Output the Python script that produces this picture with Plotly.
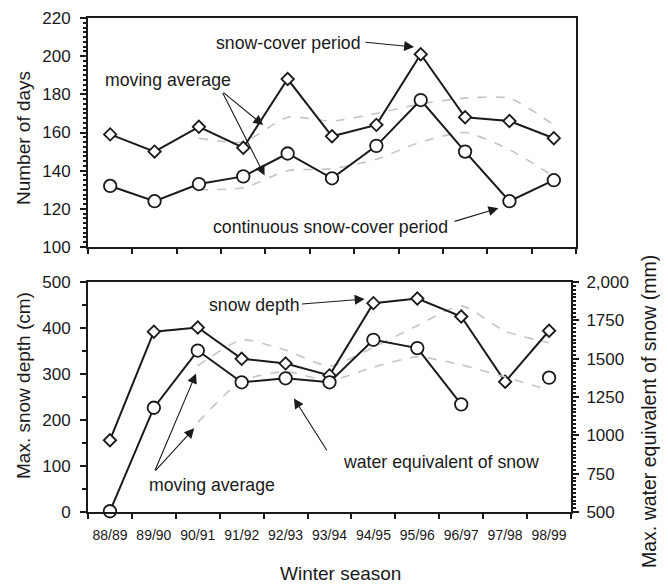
import plotly.graph_objects as go

seasons = ["88/89", "89/90", "90/91", "91/92", "92/93", "93/94",
           "94/95", "95/96", "96/97", "97/98", "98/99"]

# top panel (days)
snow_cover_days = [159, 150, 163, 152, 188, 158, 164, 201, 168, 166, 157]
continuous_days = [132, 124, 133, 137, 149, 136, 153, 177, 150, 124, 135]
snow_cover_ma = [None, None, 157, 155, 168, 166, 170, 175, 178, 178, 164]
continuous_ma = [None, None, 130, 131, 140, 141, 146, 155, 160, 151, 137]

# bottom panel
snow_depth_cm = [156, 392, 401, 333, 323, 297, 454, 464, 425, 283, 394]
water_equiv_mm = [505, 1180, 1553, 1346, 1372, 1346, 1623, 1569, 1202, None, 1376]
snow_depth_ma = [None, None, 318, 374, 352, 317, 358, 405, 448, 393, 368]
water_equiv_ma = [None, None, 1085, 1355, 1415, 1358, 1445, 1512, 1460, 1380, 1295]

water_ticks = [500, 750, 1000, 1250, 1500, 1750, 2000]
water_ticktext = ["500", "750", "1000", "1250", "1500", "1750", "2,000"]

FONT = "Liberation Sans, Arial, sans-serif"
NARROW = "Liberation Sans Narrow, Arial Narrow, Liberation Sans, sans-serif"
INK = "#1a1a1a"
DASH = "#c4c4c4"

# page offset (browser body margin)
OFF = 8
WIN_W, WIN_H = 668, 587
W, H = WIN_W - OFF, WIN_H - OFF

# plot area in window pixels
PL, PR_TOP, PR_BOT = 88, 576, 571
TOP_T, TOP_B = 18, 247
BOT_T, BOT_B = 282, 512

L = PL - OFF
T = TOP_T - OFF
R = W - (PR_TOP - OFF)
B = H - (BOT_B - OFF)
plot_w = W - L - R
plot_h = H - T - B
top_dom = [(BOT_B - TOP_B) / plot_h, 1.0]
bot_dom = [0.0, (BOT_B - BOT_T) / plot_h]
xb_dom = [0.0, (PR_BOT - PL) / plot_w]

fig = go.Figure()

def solid(x, y, sym, size, xa, ya):
    return go.Scatter(x=x, y=y, mode="lines+markers", xaxis=xa, yaxis=ya,
                      line=dict(color=INK, width=2),
                      marker=dict(symbol=sym, size=size, color="white",
                                  line=dict(color=INK, width=1.8)),
                      cliponaxis=False, showlegend=False, hoverinfo="skip")

def dashed(x, y, xa, ya):
    return go.Scatter(x=x, y=y, mode="lines", xaxis=xa, yaxis=ya,
                      line=dict(color=DASH, width=1.6, dash="dash", shape="spline", smoothing=0.6),
                      showlegend=False, hoverinfo="skip")

fig.add_trace(dashed(seasons, snow_cover_ma, "x", "y"))
fig.add_trace(dashed(seasons, continuous_ma, "x", "y"))
fig.add_trace(solid(seasons, snow_cover_days, "diamond", 9.5, "x", "y"))
fig.add_trace(solid(seasons, continuous_days, "circle", 12.5, "x", "y"))

fig.add_trace(dashed(seasons, snow_depth_ma, "x2", "y2"))
fig.add_trace(dashed(seasons, water_equiv_ma, "x2", "y3"))
fig.add_trace(solid(seasons, snow_depth_cm, "diamond", 9.5, "x2", "y2"))
fig.add_trace(solid(seasons, water_equiv_mm, "circle", 12.5, "x2", "y3"))

axis_common = dict(showline=True, linecolor=INK, linewidth=2, mirror=True,
                   showgrid=False, zeroline=False, ticks="outside",
                   tickcolor=INK, automargin=False)

fig.update_layout(
    width=W, height=H,
    margin=dict(l=L, r=R, t=T, b=B, pad=0),
    paper_bgcolor="white", plot_bgcolor="white",
    font=dict(family=FONT, color=INK),
    xaxis=dict(axis_common, domain=[0, 1], anchor="y", type="category",
               categoryorder="array", categoryarray=seasons,
               range=[-0.5, 10.5], tickson="boundaries", ticklen=5, tickwidth=1.5,
               showticklabels=False),
    yaxis=dict(axis_common, domain=top_dom, anchor="x", range=[100, 220],
               tickmode="linear", tick0=100, dtick=20, ticklen=6, tickwidth=1.5,
               tickfont=dict(size=17), ticklabelstandoff=6,
               minor=dict(ticks="outside", dtick=2.5, tick0=100, ticklen=3, tickcolor=INK)),
    xaxis2=dict(axis_common, domain=xb_dom, anchor="y2", type="category",
                categoryorder="array", categoryarray=seasons,
                range=[-0.5, 10.5], tickson="boundaries", ticklen=5, tickwidth=1.5,
                tickangle=0,
                tickfont=dict(size=14, family=NARROW), ticklabelstandoff=9),
    yaxis2=dict(axis_common, domain=bot_dom, anchor="x2", range=[0, 500],
                tickmode="linear", tick0=0, dtick=100, ticklen=6, tickwidth=1.5,
                tickfont=dict(size=17), ticklabelstandoff=6,
                minor=dict(ticks="outside", dtick=50, tick0=0, ticklen=4, tickcolor=INK)),
    yaxis3=dict(showline=True, linecolor=INK, linewidth=2, showgrid=False, zeroline=False,
                overlaying="y2", side="right", anchor="x2", range=[500, 2000],
                tickmode="array", tickvals=water_ticks, ticktext=water_ticktext,
                ticks="outside", ticklen=6, tickwidth=1.5, tickcolor=INK,
                tickfont=dict(size=17), ticklabelstandoff=4, automargin=False,
                minor=dict(ticks="outside", dtick=25, tick0=500, ticklen=3, tickcolor=INK)),
)

ann = []
TXT = dict(size=17.7, color=INK, family=FONT)

def text(x, y, s, xref="x", yref="y"):
    ann.append(dict(x=x, y=y, xref=xref, yref=yref, text=s, showarrow=False, font=TXT))

def arrow(x, y, ax, ay, xref="x", yref="y"):
    ann.append(dict(x=x, y=y, ax=ax, ay=ay, xref=xref, yref=yref, axref=xref, ayref=yref,
                    text="", showarrow=True, arrowhead=2, arrowsize=1.8,
                    arrowwidth=1.1, arrowcolor=INK, standoff=0, startstandoff=0))

# top panel annotations
text(4.03, 206.9, "snow-cover period")
arrow(6.85, 204.8, 5.72, 207.4)
text(1.30, 187.5, "moving average")
arrow(3.45, 163.9, 2.52, 181.5)
arrow(3.48, 137.5, 2.52, 181.5)
text(4.97, 110.6, "continuous snow-cover period")
arrow(8.75, 120.3, 7.73, 113.2)

# bottom panel annotations
text(3.29, 450, "snow depth", "x2", "y2")
arrow(5.80, 463, 4.34, 452, "x2", "y2")
text(7.54, 108, "water equivalent of snow", "x2", "y2")
arrow(4.19, 247, 4.96, 131, "x2", "y2")
text(2.32, 58, "moving average", "x2", "y2")
arrow(1.96, 301, 1.01, 87, "x2", "y2")
arrow(1.92, 182, 1.01, 87, "x2", "y2")

# axis titles, placed by window pixel position
TITLE = dict(size=19, color=INK, family=FONT)

def title(px, py, s, angle=0, size=19):
    ann.append(dict(x=(px - OFF - L) / plot_w, y=1 - (py - OFF - T) / plot_h,
                    xref="paper", yref="paper", text=s, textangle=angle,
                    showarrow=False, font=dict(TITLE, size=size),
                    xanchor="center", yanchor="middle"))

title(23, 138, "Number of days", -90)
title(23, 386, "Max. snow depth (cm)", -90)
title(649, 412, "Max. water equivalent of snow (mm)", -90, 19.5)
title(340, 573, "Winter season")

fig.update_layout(annotations=ann)
fig.write_html("out.html")
